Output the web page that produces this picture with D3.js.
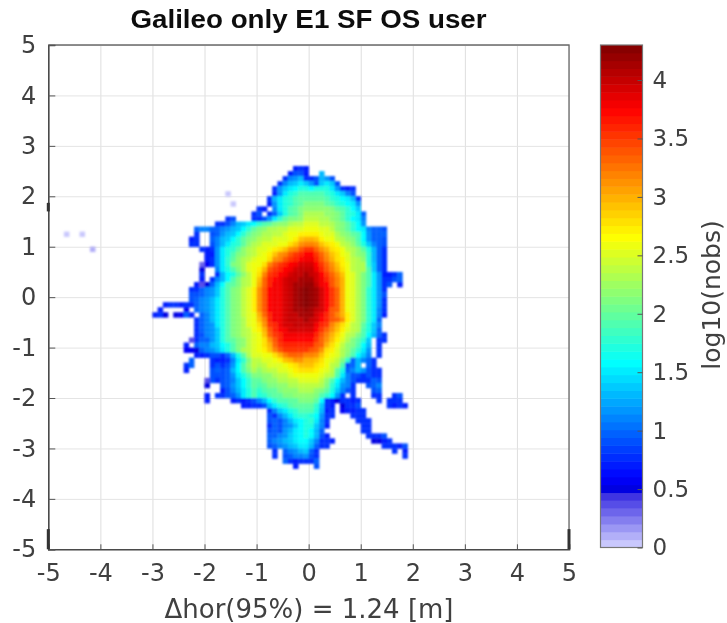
<!DOCTYPE html>
<html>
<head>
<meta charset="utf-8">
<script src="https://cdn.jsdelivr.net/npm/d3@7"></script>
<style>
  body { margin: 0; background: #fff; }
  text { font-family: "DejaVu Sans"; fill: #404040; }
</style>
</head>
<body>
<svg id="chart" width="727" height="623"></svg>
<script>
// axis ticks
const xTicks = [-5, -4, -3, -2, -1, 0, 1, 2, 3, 4, 5];
const yTicks = [-5, -4, -3, -2, -1, 0, 1, 2, 3, 4, 5];
const tickLabels = ["-5", "-4", "-3", "-2", "-1", "0", "1", "2", "3", "4", "5"];
const cbTicks = [0, 0.5, 1, 1.5, 2, 2.5, 3, 3.5, 4];
const cbLabels = ["0", "0.5", "1", "1.5", "2", "2.5", "3", "3.5", "4"];

// colormap stops
const cmapStops = [0, 0.47, 0.5, 0.6, 1.58, 2.66, 3.75, 4.3];
const cmapColors = ["#d4d4ff", "#3428e0", "#0000e0", "#0000ff", "#00ffff", "#ffff00", "#ff0000", "#7f0000"];

// log10(nobs) per 0.1 m cell, one char per cell: index in this alphabet / 10
const alphabet = "0123456789abcdefghijklmnopqrstuvwxyzABCDEFGH";
const firstRowTop = 2.6;
const firstColLeft = -3.0;
const binSize = 0.1;
// columns grouped by tens: x from -3..-2.1 | -2..-1.1 | -1..-0.1 | 0..0.9 | 1..1.9
const rows = [
  ".......... .......... .......787 .......... ..........",
  ".......... .......... ......7997 ..d....... ..........",
  ".......... .......... .....8bcd8 89dc9..... ..........",
  ".......... .......... ....8bdefe c9efe9.... ..........",
  ".......... .......... ...8cefghh ghhhfc878. ..........",
  ".......... .......... ...7cfhijj jjjihfeb9. ..........",
  ".......... .......... ..8dfhijkk kkkjihgfd8 ..........",
  ".......... .......... ..7cfhijkl lllkjihgfc ..........",
  ".......... .......... 87.bfhjklm mmmmlkjige ..........",
  ".......... .........8 9.8aehjkln nnnmmlkihf a.........",
  ".......... ....89...8 89cfikllmo oonnmlkigf b.........",
  ".......... ..889bdefg ijklmmnoop ppoonmlkig c.........",
  "........ab baabcdegik lmnnoopppq qqppomlkig fbaa9.....",
  "........8. .9acdegikl mnnoopqqrr rrqppnmlkj gcaaa.....",
  ".......78. .abdegiklm noopppqrtu utrqqonmlj gcaa9.....",
  ".......88. .9bdfhikmn opppqqstvw wvtsrqonmk heba9.....",
  ".........8 78cfhikmno ppqrstvwyz zxvusrqonm khda8.....",
  ".......... 77cfhjlmno pqrtvwyzAB Bzxvtsqpnm lida8.....",
  ".......... 78cfikmnop qqsvwyzABC CAywusrpon mida8.....",
  ".........3 68cfilmnpq qswyzABCDD DBzxvtrqon niea8.....",
  ".........5 ..bfhjlnpq ruyzABCDEE ECAywusqon njea8.....",
  ".........8 ..8dghkmoq swzABCDEEF EDBzxvtqpn ljfc778a..",
  ".........7 .8bdgjlnoq txABCDEEFF FDCAywuqpn ljfc889a..",
  "........74 5adgjklnoq uxACCDEFFG GECBywuqpn ljfc89.7..",
  ".......88a bcehjlmopr vyBCCDEFGH GFDBzxuqpn lifc8.....",
  ".......99a bcehjlmopr vyBCCDEFGH GFDBzxuqpn lifc9.....",
  ".......9ab cdfhjlmopr vyBCCDEFGH GFDBzxuqpn lifc8.....",
  "..788788ab cdfhjlmopr vyBCCDEFGH GFDBzxuqpn lifc8.....",
  ".7....6.ab cdfhjlmopr vyBCCDEFFG FEDByxuqpn lifb8.....",
  "785.56a7.a bdfhjlmopq uxACCDEEFF FDCAywurpn lifb7.....",
  "........8a bdfhjlmnpq twACCDEEEF EDBAyxvrpn lifa......",
  "........8a bcfhjlmnpq svzACDDEEE ECAzwusqon kheb......",
  "........8a bcehjlmnoq ruyABCDDDD DBzxvtrpon jhea......",
  "........89 bcehjlmnop qtxzACCCCC CAywusqonl jgda8.....",
  ".......48a acehjklmop qsvyABBBBB Bzxvtrpnlk ie.88.....",
  "......7.ab bdeghjlmop qsuxzAAAAA Ayxusqomlj gd.8......",
  "......665a bcdfhjlnop qrtwyzzzzz yxvsrpnmki fc.8......",
  "........77 8998adhknp pqqsuwxxxw wvtrqpnljg eb.8......",
  ".......a.. .8778bfilo oppqrtuvvu utsqpoliad ba8.......",
  "......8a.. .8989cgjmo nopppqrstt tsrqonj9ad .a8.......",
  "......7... .9a9adgjln mnooppqrss srqpokhabd c988......",
  ".......... .999acfhjl lmmnoopqqq qqponjfb99 8988......",
  ".......... 4989abegik klmmnnoopp ppomjgdb98 88a9......",
  ".......... 5..9acegik jkllmmnnoo oonlifcb8. .9ab......",
  ".......... ...79bdfhj ijkklmmmnn nmlkheb98. ..9a......",
  ".......... 7.889acfhj hijkkllmmm mljigc8.8. ..88..89..",
  ".......... 7....78789 bdgijjkkll lkg8758878 ...8.888..",
  ".......... .......778 89dfhijkkk kie87.5889 .....8787.",
  ".......... .......... ..8befhijj jhd78.6778 8.........",
  ".......... .......... ..98bdfhii hgc88...88 8.........",
  ".......... .......... ..9a9bdfgh ifb8.....8 88........",
  ".......... .......... ..8a9bcegh heb7...... 88........",
  ".......... .......... ..9a9cdfgh gda....... 88........",
  ".......... .......... ..aabcefgh gd97...... .8889.....",
  ".......... .......... ..abcdefgg eb887..... ..5578....",
  ".......... .......... ..9abcdeff da88...... ....88879.",
  ".......... .......... ...8.abcde a8........ ......8.7.",
  ".......... .......... ...8.9abbc 98........ ........8.",
  ".......... .......... .....a8788 8a........ ..........",
  ".......... .......... .......7.. .9........ .........."
];

// isolated pale cells away from the main cloud
const strayX = [-4.7, -4.4, -4.2, -1.6, -1.5];
const strayY = [1.3, 1.3, 1.0, 2.1, 1.9];
const strayV = [0.05, 0.05, 0.1, 0.05, 0.05];

// thick dark bits along the frame (x, y from, y to)
const frameBitX = [-5, 5, -5];
const frameBitY0 = [-5, -5, 1.7];
const frameBitY1 = [-4.6, -4.6, 1.87];

const svg = d3.select("#chart");

const x = d3.scaleLinear().domain([-5, 5]).range([48.3, 569]);
const y = d3.scaleLinear().domain([-5, 5]).range([549.3, 45]);
const cb = d3.scaleLinear().domain([0, 4.3]).range([547.5, 45]);

// 64 level colormap
const cmapLinear = d3.scaleLinear().domain(cmapStops).range(cmapColors);
const levels = d3.range(64).map(i => (i + 0.5) * 4.3 / 64);
const color = d3.scaleQuantize().domain([0, 4.3]).range(levels.map(v => cmapLinear(v)));

// flatten the rows into cells
const cells = [];
rows.forEach((row, r) => {
  row.replace(/ /g, "").split("").forEach((ch, c) => {
    if (ch === ".") return;
    cells.push({
      x0: firstColLeft + c * binSize,
      y1: firstRowTop - r * binSize,
      v: alphabet.indexOf(ch) / 10
    });
  });
});
strayX.forEach((d, i) => cells.push({ x0: d, y1: strayY[i], v: strayV[i] }));

// source picture is a soft jpeg, blur a bit
const defs = svg.append("defs");
defs.append("filter").attr("id", "soft")
  .attr("x", "-5%").attr("y", "-5%").attr("width", "110%").attr("height", "110%")
  .append("feGaussianBlur").attr("stdDeviation", 0.9);
defs.append("filter").attr("id", "softText")
  .attr("x", "-5%").attr("y", "-5%").attr("width", "110%").attr("height", "110%")
  .append("feGaussianBlur").attr("stdDeviation", 0.4);

// grid
svg.append("g").attr("transform", `translate(0,${y(-5)})`)
  .call(d3.axisBottom(x).tickValues(xTicks).tickSize(-(y(-5) - y(5))).tickFormat(""))
  .call(g => g.select(".domain").remove())
  .call(g => g.selectAll("line").attr("stroke", "#dedede"));
svg.append("g").attr("transform", `translate(${x(-5)},0)`)
  .call(d3.axisLeft(y).tickValues(yTicks).tickSize(-(x(5) - x(-5))).tickFormat(""))
  .call(g => g.select(".domain").remove())
  .call(g => g.selectAll("line").attr("stroke", "#e4e4e4"));

// heatmap
svg.append("g").attr("filter", "url(#soft)")
  .selectAll("rect")
  .data(cells)
  .enter()
  .append("rect")
  .attr("x", d => x(d.x0))
  .attr("y", d => y(d.y1))
  .attr("width", x(binSize) - x(0) + 0.3)
  .attr("height", y(0) - y(binSize) + 0.3)
  .attr("fill", d => color(d.v));

// top and right frame
svg.append("path")
  .attr("d", `M${x(-5)},${y(5)}H${x(5)}V${y(-5)}`)
  .attr("fill", "none")
  .attr("stroke", "#6a6a6a")
  .attr("stroke-width", 1.3);

// axes, ticks point inward
const xAxis = d3.axisBottom(x).tickValues(xTicks).tickSize(-5).tickPadding(15)
  .tickFormat((d, i) => tickLabels[i]);
const yAxis = d3.axisLeft(y).tickValues(yTicks).tickSize(-7).tickPadding(12)
  .tickFormat((d, i) => tickLabels[i]);

function styleAxis(g) {
  g.select(".domain").attr("stroke", "#4a4a4a").attr("stroke-width", 1.6);
  g.selectAll("line").attr("stroke", "#555");
  g.selectAll("text").style("font-size", "24px").style("font-family", "DejaVu Sans").attr("fill", "#404040");
}
svg.append("g").attr("transform", `translate(0,${y(-5)})`).call(xAxis).call(styleAxis);
svg.append("g").attr("transform", `translate(${x(-5)},0)`).call(yAxis).call(styleAxis);

svg.selectAll(".frame-bit")
  .data(frameBitX)
  .enter()
  .append("line")
  .attr("class", "frame-bit")
  .attr("x1", d => x(d))
  .attr("x2", d => x(d))
  .attr("y1", (d, i) => y(frameBitY0[i]))
  .attr("y2", (d, i) => y(frameBitY1[i]))
  .attr("stroke", "#333")
  .attr("stroke-width", 3);

// colorbar
const cbLeft = 600.5;
const cbRight = 642.5;
svg.append("g")
  .selectAll("rect")
  .data(levels)
  .enter()
  .append("rect")
  .attr("x", cbLeft)
  .attr("width", cbRight - cbLeft)
  .attr("y", d => cb(d + 4.3 / 128))
  .attr("height", cb(0) - cb(4.3 / 64) + 0.5)
  .attr("fill", d => color(d));
svg.append("rect")
  .attr("x", cbLeft).attr("y", cb(4.3))
  .attr("width", cbRight - cbLeft).attr("height", cb(0) - cb(4.3))
  .attr("fill", "none").attr("stroke", "#777").attr("stroke-width", 1.2);

const cbAxis = d3.axisRight(cb).tickValues(cbTicks).tickSize(-5).tickPadding(10)
  .tickFormat((d, i) => cbLabels[i]);
svg.append("g").attr("transform", `translate(${cbRight},0)`).call(cbAxis)
  .call(g => g.select(".domain").remove())
  .call(g => g.selectAll("line").attr("stroke", "#555"))
  .call(g => g.selectAll("text").style("font-size", "23px").style("font-family", "DejaVu Sans").attr("fill", "#404040"));

// titles
svg.append("text")
  .attr("transform", "translate(308.5,28) scale(1.11,1)")
  .attr("text-anchor", "middle")
  .style("font-family", "Liberation Sans")
  .style("font-size", "25px")
  .style("font-weight", "bold")
  .style("fill", "#111")
  .text("Galileo only E1 SF OS user");

svg.append("text")
  .attr("x", 309)
  .attr("y", 618)
  .attr("text-anchor", "middle")
  .style("font-size", "26px")
  .text("Δhor(95%) = 1.24 [m]");

svg.append("text")
  .attr("transform", "translate(720,295) rotate(-90)")
  .attr("text-anchor", "middle")
  .style("font-size", "25px")
  .text("log10(nobs)");

svg.selectAll("text").attr("filter", "url(#softText)");
</script>
</body>
</html>
